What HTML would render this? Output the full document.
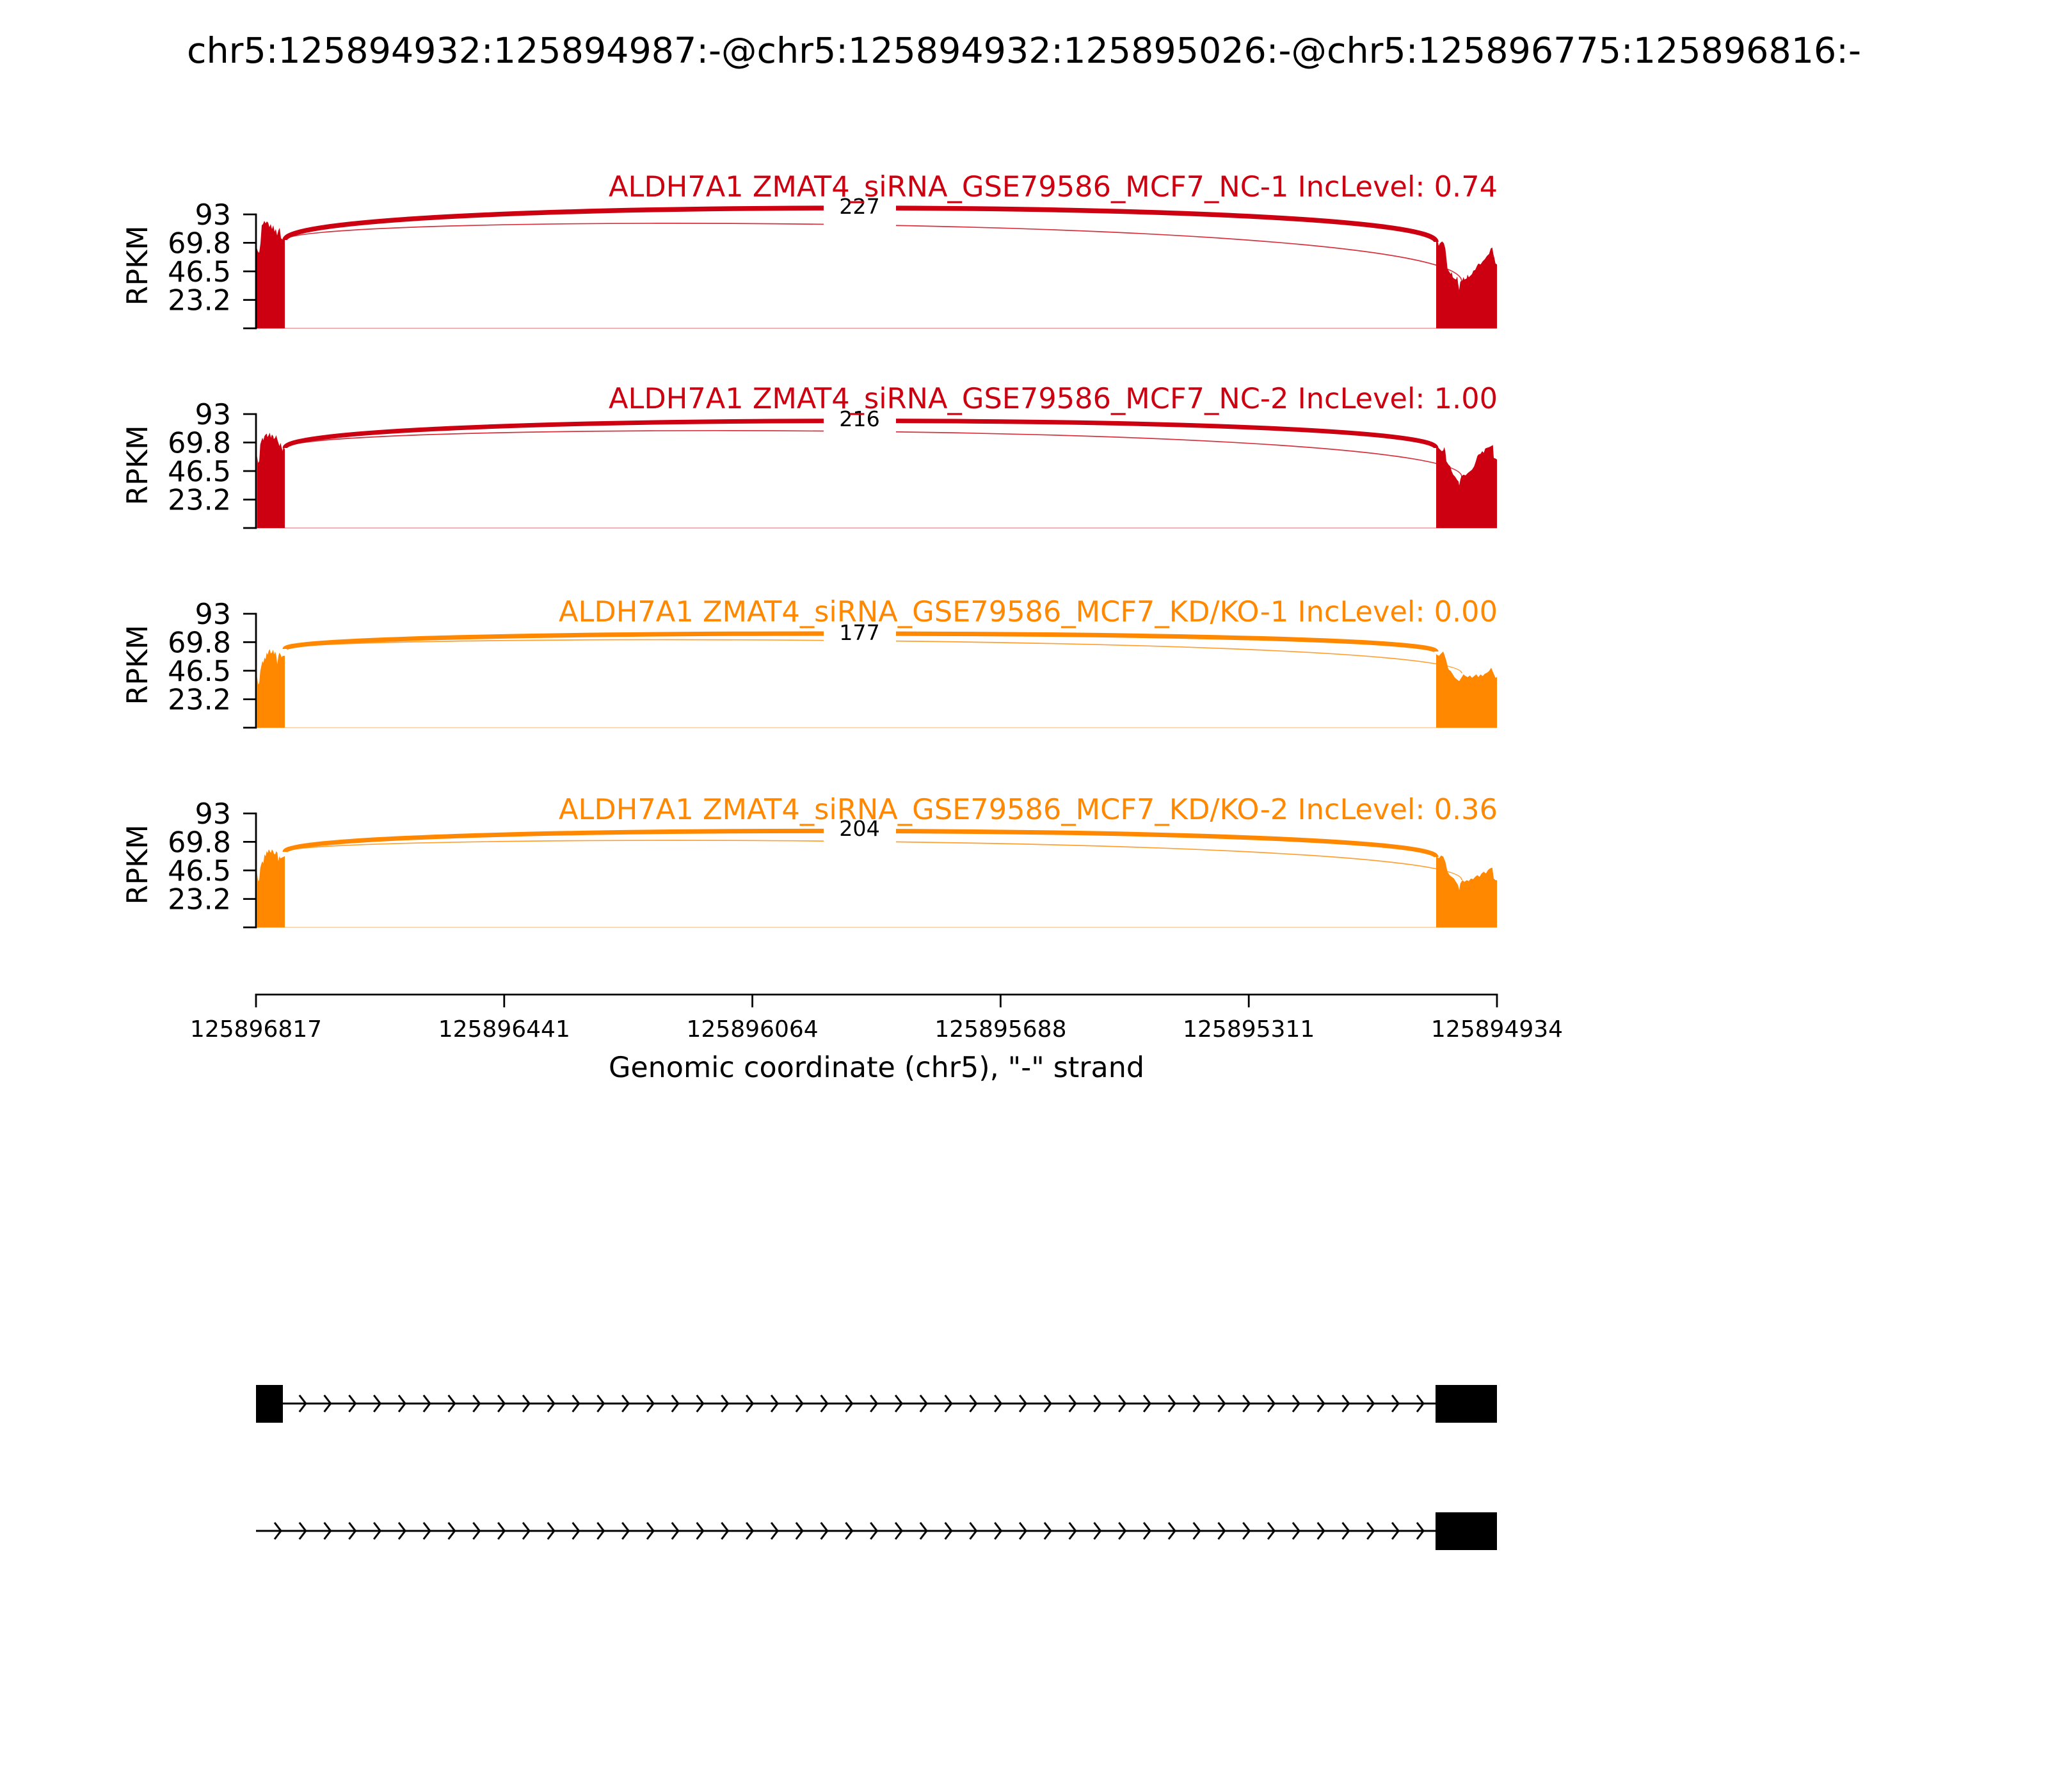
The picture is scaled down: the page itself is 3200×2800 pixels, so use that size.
<!DOCTYPE html>
<html>
<head>
<meta charset="utf-8">
<style>
html,body{margin:0;padding:0;background:#fff;}
svg{display:block;}
text{font-family:"DejaVu Sans","Liberation Sans",sans-serif;}
</style>
</head>
<body>
<svg width="3200" height="2800" viewBox="0 0 3200 2800" xmlns="http://www.w3.org/2000/svg">
<rect x="0" y="0" width="3200" height="2800" fill="#fff"/>
<defs>
<pattern id="chev1" patternUnits="userSpaceOnUse" x="409" y="2173" width="38.804" height="40">
<polyline points="20,7 30,20 20,33" fill="none" stroke="#000" stroke-width="3"/>
</pattern>
<pattern id="chev2" patternUnits="userSpaceOnUse" x="409" y="2372" width="38.804" height="40">
<polyline points="20,7 30,20 20,33" fill="none" stroke="#000" stroke-width="3"/>
</pattern>
</defs>

<!-- Main title -->
<text x="1600" y="98" font-size="55.6" text-anchor="middle" fill="#000" textLength="2616" lengthAdjust="spacingAndGlyphs">chr5:125894932:125894987:-@chr5:125894932:125895026:-@chr5:125896775:125896816:-</text>

<!-- ================= Panel 1 (T=335, B=513) ================= -->
<g>
<line x1="401" y1="513" x2="2339" y2="513" stroke="#CC0011" stroke-opacity="0.3" stroke-width="2"/>
<polygon fill="#CC0011" points="401,513 401,387 403,393 405,395 407,380 409,352 411,350 413,345 415,349 417,346 419,348 421,355 423,350 425,358 427,352 429,362 431,358 433,368 435,360 437,356 439,372 441,374 445,375 445,513"/>
<polygon fill="#CC0011" points="2244,513 2244,376.7 2246.7,378.3 2248,384 2250,380 2253.3,377.3 2256,380 2258.3,388.3 2260,403.3 2261.7,420 2263.3,422.7 2266.7,428.3 2268,425 2270,433.3 2271.7,435 2275,436.7 2277,432 2278.3,443.3 2280,453.3 2281.7,440 2285,438.3 2286.5,433 2288.3,436.7 2291.7,435 2293,429 2295,433.3 2300,428.3 2302,423 2305,421.7 2308,415 2310,411.7 2313.3,413.3 2316.7,408.3 2320,405 2323.3,400 2326.7,396.7 2329.3,388.3 2331.7,386.7 2333.3,396.7 2335,403.3 2336.7,411.7 2339,413.3 2339,513"/>
<path d="M445,375 C445,333 2284,333 2284,440" fill="none" stroke="#CC0011" stroke-opacity="0.8" stroke-width="1.7"/>
<path d="M445,375 C445,307.8 2244,307.8 2244,378" fill="none" stroke="#CC0011" stroke-width="7.5"/>
<rect x="1287" y="290" width="113" height="66" fill="#fff"/>
<text x="1343" y="334" font-size="33.3" text-anchor="middle" fill="#000">227</text>
<!-- y axis -->
<line x1="400" y1="333.6" x2="400" y2="514.4" stroke="#000" stroke-width="2.8"/>
<g stroke="#000" stroke-width="2.8">
<line x1="380" y1="335" x2="400" y2="335"/>
<line x1="380" y1="379.4" x2="400" y2="379.4"/>
<line x1="380" y1="424" x2="400" y2="424"/>
<line x1="380" y1="468.6" x2="400" y2="468.6"/>
<line x1="380" y1="513" x2="400" y2="513"/>
</g>
<g font-size="44.4" text-anchor="end" fill="#000">
<text x="361" y="351">93</text>
<text x="361" y="395.4">69.8</text>
<text x="361" y="440">46.5</text>
<text x="361" y="484.6">23.2</text>
</g>
<text transform="translate(230,415) rotate(-90)" font-size="44.4" text-anchor="middle" fill="#000">RPKM</text>
<text x="2340" y="307" font-size="44.4" text-anchor="end" fill="#CC0011" textLength="1389" lengthAdjust="spacingAndGlyphs">ALDH7A1 ZMAT4_siRNA_GSE79586_MCF7_NC-1 IncLevel: 0.74</text>
</g>

<!-- ================= Panel 2 (T=647, B=825) ================= -->
<g>
<line x1="401" y1="825" x2="2339" y2="825" stroke="#CC0011" stroke-opacity="0.3" stroke-width="2"/>
<polygon fill="#CC0011" points="401.7,825 401.7,712.8 403.3,723.4 405,720.7 406.7,694.4 408,690 410,683.9 411.5,688 413.3,681.2 415,679 416.7,677.5 418,683 420,679.6 421.5,676 423.3,683.9 425,679 426.7,681.2 428,686 430,683.9 431.5,680 433.3,686.5 435,692 436.7,697 438.3,691.8 440,699 441.7,704.9 443,697 445,702.3 445,825"/>
<polygon fill="#CC0011" points="2244,825 2244,699.7 2246.7,698.6 2250,702.3 2252.7,704.9 2255,703.9 2256.7,698.6 2258.3,704.9 2260,720.7 2263.3,726 2266,728.6 2268.3,736.5 2270.7,741.8 2273.3,744.4 2276.7,749.7 2279,752.3 2280,758.6 2281.7,749.7 2283.3,744.4 2286.7,741.8 2290,742.8 2293.3,739.2 2296.7,736.5 2300,733.9 2303.3,728.6 2306,720.7 2308.3,712.8 2310,710.2 2313.3,709.1 2316,704.9 2318.3,707.6 2320.7,700.7 2323.3,699.7 2326.7,698.6 2330,697 2332.7,695.4 2334,715.5 2336.7,716.5 2339,718 2339,825"/>
<path d="M445,700 C445,658.3 2284,658.3 2284,745" fill="none" stroke="#CC0011" stroke-opacity="0.8" stroke-width="1.7"/>
<path d="M445,700 C445,643.5 2244,643.5 2244,700" fill="none" stroke="#CC0011" stroke-width="7"/>
<rect x="1287" y="622" width="113" height="66" fill="#fff"/>
<text x="1343" y="666" font-size="33.3" text-anchor="middle" fill="#000">216</text>
<line x1="400" y1="645.6" x2="400" y2="826.4" stroke="#000" stroke-width="2.8"/>
<g stroke="#000" stroke-width="2.8">
<line x1="380" y1="647" x2="400" y2="647"/>
<line x1="380" y1="691.4" x2="400" y2="691.4"/>
<line x1="380" y1="736" x2="400" y2="736"/>
<line x1="380" y1="780.6" x2="400" y2="780.6"/>
<line x1="380" y1="825" x2="400" y2="825"/>
</g>
<g font-size="44.4" text-anchor="end" fill="#000">
<text x="361" y="663">93</text>
<text x="361" y="707.4">69.8</text>
<text x="361" y="752">46.5</text>
<text x="361" y="796.6">23.2</text>
</g>
<text transform="translate(230,727) rotate(-90)" font-size="44.4" text-anchor="middle" fill="#000">RPKM</text>
<text x="2340" y="638" font-size="44.4" text-anchor="end" fill="#CC0011" textLength="1389" lengthAdjust="spacingAndGlyphs">ALDH7A1 ZMAT4_siRNA_GSE79586_MCF7_NC-2 IncLevel: 1.00</text>
</g>

<!-- ================= Panel 3 (T=959, B=1137) ================= -->
<g>
<line x1="401" y1="1137" x2="2339" y2="1137" stroke="#FF8800" stroke-opacity="0.3" stroke-width="2"/>
<polygon fill="#FF8800" points="401.7,1137 401.7,1056.4 403.3,1069.6 405,1067 406.7,1048.5 408.3,1040.6 410,1032.7 411.5,1036 413.3,1027.5 415,1030 416.7,1019.6 418,1023 420,1016.9 421.7,1014.3 423,1021 425,1019.6 426.5,1015 428.3,1022.2 430,1018 431.7,1024.8 433.3,1038 435,1024.8 436.5,1020 438.3,1022.2 440,1027 441.7,1024.8 445,1024.8 445,1137"/>
<polygon fill="#FF8800" points="2244,1137 2244,1022.2 2248.3,1024.8 2251.7,1021.1 2255,1018 2256.7,1022.2 2260,1032.7 2261.7,1040.6 2263.3,1045.9 2266.7,1048.5 2270,1053.8 2273.3,1059 2276.7,1061.7 2280,1064.3 2283.3,1059 2286.7,1053.8 2290,1056.4 2293.3,1058 2296.7,1055.4 2300,1059 2303.3,1056.4 2306.7,1053.8 2310,1058 2313.3,1053.8 2316.7,1056.4 2320,1052.7 2323.3,1051.2 2326.7,1048.5 2330,1043.3 2333.3,1051.2 2336.7,1059 2339,1058 2339,1137"/>
<path d="M445,1014 C445,990.7 2284,990.7 2284,1052" fill="none" stroke="#FF8800" stroke-opacity="0.8" stroke-width="1.7"/>
<path d="M445,1014 C445,981.3 2244,981.3 2244,1018" fill="none" stroke="#FF8800" stroke-width="7"/>
<rect x="1287" y="956" width="113" height="66" fill="#fff"/>
<text x="1343" y="1000" font-size="33.3" text-anchor="middle" fill="#000">177</text>
<line x1="400" y1="957.6" x2="400" y2="1138.4" stroke="#000" stroke-width="2.8"/>
<g stroke="#000" stroke-width="2.8">
<line x1="380" y1="959" x2="400" y2="959"/>
<line x1="380" y1="1003.4" x2="400" y2="1003.4"/>
<line x1="380" y1="1048" x2="400" y2="1048"/>
<line x1="380" y1="1092.6" x2="400" y2="1092.6"/>
<line x1="380" y1="1137" x2="400" y2="1137"/>
</g>
<g font-size="44.4" text-anchor="end" fill="#000">
<text x="361" y="975">93</text>
<text x="361" y="1019.4">69.8</text>
<text x="361" y="1064">46.5</text>
<text x="361" y="1108.6">23.2</text>
</g>
<text transform="translate(230,1039) rotate(-90)" font-size="44.4" text-anchor="middle" fill="#000">RPKM</text>
<text x="2340" y="971" font-size="44.4" text-anchor="end" fill="#FF8800" textLength="1467" lengthAdjust="spacingAndGlyphs">ALDH7A1 ZMAT4_siRNA_GSE79586_MCF7_KD/KO-1 IncLevel: 0.00</text>
</g>

<!-- ================= Panel 4 (T=1271, B=1449) ================= -->
<g>
<line x1="401" y1="1449" x2="2339" y2="1449" stroke="#FF8800" stroke-opacity="0.3" stroke-width="2"/>
<polygon fill="#FF8800" points="401.7,1449 401.7,1364 403.3,1377.2 405,1374.5 406.7,1356.1 408.3,1350 410,1345.6 411.5,1349 413.3,1335 415,1338 416.7,1329.8 418,1333 420,1327.1 421.5,1330 423.3,1332.4 425,1327 426.7,1329.8 428,1334 430,1335 431.5,1330 433.3,1332.4 435,1345.6 436.7,1337.7 438,1341 440,1340.3 445,1337.7 445,1449"/>
<polygon fill="#FF8800" points="2244,1449 2244,1338.4 2248.3,1341 2251.7,1336.8 2255,1338.4 2258.3,1346.3 2261.7,1362.1 2265,1367.4 2268.3,1370 2271.7,1372.6 2275,1377.9 2278.3,1383.2 2280,1391.1 2281.7,1380.5 2285,1375.3 2288.3,1377.9 2291.7,1375.3 2295,1376.8 2298.3,1372.6 2301.7,1373.7 2305,1370 2308.3,1367.4 2311.7,1370 2315,1364.7 2318.3,1362.1 2321.7,1364.7 2325,1359.5 2328.3,1356.8 2331.7,1355.8 2334,1372.6 2336.7,1375.3 2339,1375.3 2339,1449"/>
<path d="M445,1331 C445,1302.3 2284,1302.3 2284,1375" fill="none" stroke="#FF8800" stroke-opacity="0.8" stroke-width="1.7"/>
<path d="M445,1331 C445,1286.3 2244,1286.3 2244,1339" fill="none" stroke="#FF8800" stroke-width="7"/>
<rect x="1287" y="1262" width="113" height="66" fill="#fff"/>
<text x="1343" y="1306" font-size="33.3" text-anchor="middle" fill="#000">204</text>
<line x1="400" y1="1269.6" x2="400" y2="1450.4" stroke="#000" stroke-width="2.8"/>
<g stroke="#000" stroke-width="2.8">
<line x1="380" y1="1271" x2="400" y2="1271"/>
<line x1="380" y1="1315.4" x2="400" y2="1315.4"/>
<line x1="380" y1="1360" x2="400" y2="1360"/>
<line x1="380" y1="1404.6" x2="400" y2="1404.6"/>
<line x1="380" y1="1449" x2="400" y2="1449"/>
</g>
<g font-size="44.4" text-anchor="end" fill="#000">
<text x="361" y="1287">93</text>
<text x="361" y="1331.4">69.8</text>
<text x="361" y="1376">46.5</text>
<text x="361" y="1420.6">23.2</text>
</g>
<text transform="translate(230,1351) rotate(-90)" font-size="44.4" text-anchor="middle" fill="#000">RPKM</text>
<text x="2340" y="1280" font-size="44.4" text-anchor="end" fill="#FF8800" textLength="1467" lengthAdjust="spacingAndGlyphs">ALDH7A1 ZMAT4_siRNA_GSE79586_MCF7_KD/KO-2 IncLevel: 0.36</text>
</g>

<!-- ================= X axis ================= -->
<line x1="398.6" y1="1554" x2="2340.4" y2="1554" stroke="#000" stroke-width="2.8"/>
<g stroke="#000" stroke-width="2.8">
<line x1="400" y1="1554" x2="400" y2="1574"/>
<line x1="787.8" y1="1554" x2="787.8" y2="1574"/>
<line x1="1175.6" y1="1554" x2="1175.6" y2="1574"/>
<line x1="1563.4" y1="1554" x2="1563.4" y2="1574"/>
<line x1="1951.2" y1="1554" x2="1951.2" y2="1574"/>
<line x1="2339" y1="1554" x2="2339" y2="1574"/>
</g>
<g font-size="36" text-anchor="middle" fill="#000">
<text x="400" y="1620">125896817</text>
<text x="787.8" y="1620">125896441</text>
<text x="1175.6" y="1620">125896064</text>
<text x="1563.4" y="1620">125895688</text>
<text x="1951.2" y="1620">125895311</text>
<text x="2339" y="1620">125894934</text>
</g>
<text x="1369.5" y="1683" font-size="44.4" text-anchor="middle" fill="#000">Genomic coordinate (chr5), "-" strand</text>

<!-- ================= Gene structures ================= -->
<line x1="400" y1="2193" x2="2339" y2="2193" stroke="#000" stroke-width="3"/>
<rect x="402" y="2173" width="1842" height="40" fill="url(#chev1)"/>
<rect x="400" y="2164" width="42" height="59" fill="#000"/>
<rect x="2243" y="2164" width="96" height="59" fill="#000"/>

<line x1="400" y1="2392" x2="2339" y2="2392" stroke="#000" stroke-width="3"/>
<rect x="402" y="2372" width="1842" height="40" fill="url(#chev2)"/>
<rect x="2243" y="2363" width="96" height="59" fill="#000"/>
</svg>
</body>
</html>
